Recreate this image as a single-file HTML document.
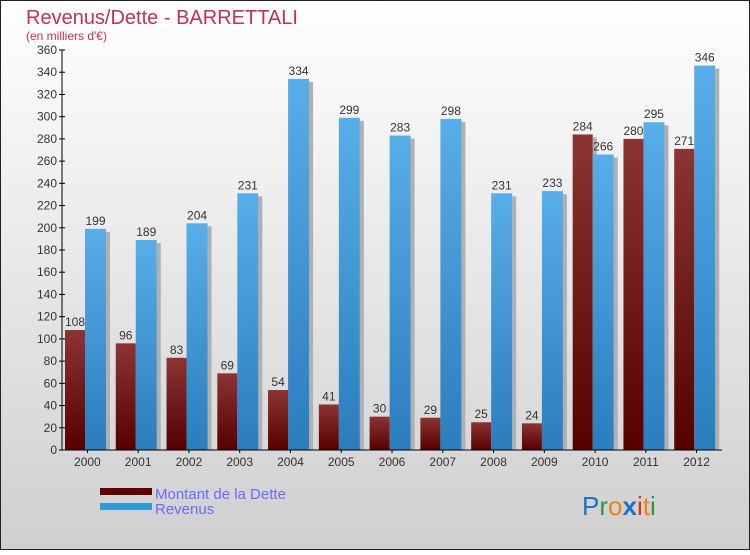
<!DOCTYPE html>
<html><head><meta charset="utf-8"><style>
body{margin:0;}
#c{width:750px;height:550px;position:relative;font-family:"Liberation Sans",sans-serif;}
</style></head><body>
<div id="c">
<svg id="s" width="750" height="550" xmlns="http://www.w3.org/2000/svg">
<defs>
<linearGradient id="bg" x1="0" y1="0" x2="0" y2="1"><stop offset="0" stop-color="#ffffff"/><stop offset="1" stop-color="#cfcfcf"/></linearGradient>
<linearGradient id="gd" x1="0" y1="0" x2="0" y2="1"><stop offset="0" stop-color="#8c3434"/><stop offset="1" stop-color="#560000"/></linearGradient>
<linearGradient id="gr" x1="0" y1="0" x2="0" y2="1"><stop offset="0" stop-color="#58aee8"/><stop offset="1" stop-color="#2b7dbd"/></linearGradient>
</defs>
<rect x="0.5" y="0.5" width="749" height="549" fill="url(#bg)" stroke="#222"/>
<text x="26" y="24" font-size="20" fill="#c0305a">Revenus/Dette - BARRETTALI</text>
<text x="26" y="40" font-size="12" fill="#c0305a">(en milliers d'€)</text>
<g id="plot"></g>
<rect x="100" y="488" width="52" height="7" fill="#600000"/>
<text x="155" y="499" font-size="15" fill="#6a6aff">Montant de la Dette</text>
<rect x="100" y="503" width="52" height="7" fill="#3399dd"/>
<text x="155" y="514" font-size="15" fill="#6a6aff">Revenus</text>
<g font-size="26" font-family="Liberation Sans,sans-serif">
<text x="582" y="515"><tspan fill="#1a73c8">P</tspan><tspan fill="#2a9a40">r</tspan><tspan fill="#f08010">o</tspan><tspan fill="#1a73c8" font-weight="bold">x</tspan><tspan fill="#e03010">i</tspan><tspan fill="#f08010">t</tspan><tspan fill="#2a9a40">i</tspan></text>
</g>
</svg>
</div>
<script>
const years=["2000","2001","2002","2003","2004","2005","2006","2007","2008","2009","2010","2011","2012"];
const debt=[108,96,83,69,54,41,30,29,25,24,284,280,271];
const revenue=[199,189,204,231,334,299,283,298,231,233,266,295,346];
const yTicks=[0,20,40,60,80,100,120,140,160,180,200,220,240,260,280,300,320,340,360];
const NS="http://www.w3.org/2000/svg";
const X0=62,X1=722,Y0=450,Y1=50,YMAX=360;
const g=document.getElementById('plot');
const bw=(X1-X0)/years.length;
function y(v){return Y0-(v/YMAX)*(Y0-Y1);}
function mk(t,a){const e=document.createElementNS(NS,t);for(const k in a)e.setAttribute(k,a[k]);g.appendChild(e);return e;}
yTicks.forEach(v=>{
 const t=mk('line',{x1:X0-3,x2:X0+3,y1:y(v),y2:y(v),stroke:'#000'});
 
 
 const l=mk('text',{x:X0-5,y:y(v)+4,'font-size':12,'text-anchor':'end',fill:'#333'});
 l.textContent=v;
 
 
});
years.forEach((yr,i)=>{
 const left=X0+i*bw;
 const dx=left+3,rx=left+23;
 [[dx,debt[i],'url(#gd)',20,'bar-debt-'+yr],[rx,revenue[i],'url(#gr)',21,'bar-revenue-'+yr]].forEach(([x,v,f,w,n])=>{
  const sh=mk('rect',{x:x+w,y:y(v)+3,width:4,height:Y0-y(v)-3,fill:'#b0b0b0'});
  
  
  const r=mk('rect',{x:x,y:y(v),width:w,height:Y0-y(v),fill:f});
  
  
  const t=mk('text',{x:x+w/2,y:y(v)-4,'font-size':12,'text-anchor':'middle',fill:'#333'});
  t.textContent=v;
  
  
 });
 const xl=mk('text',{x:left+bw/2,y:466,'font-size':12,'text-anchor':'middle',fill:'#333'});
 xl.textContent=yr;
 
 
 const xt=mk('line',{x1:left+bw/2,x2:left+bw/2,y1:Y0,y2:Y0+3,stroke:'#000'});
 
 
});
const ya=mk('line',{x1:X0,x2:X0,y1:Y1,y2:Y0,stroke:'#000'});


const xa=mk('line',{x1:X0,x2:X1,y1:Y0,y2:Y0,stroke:'#000'});


</script>
</body></html>
